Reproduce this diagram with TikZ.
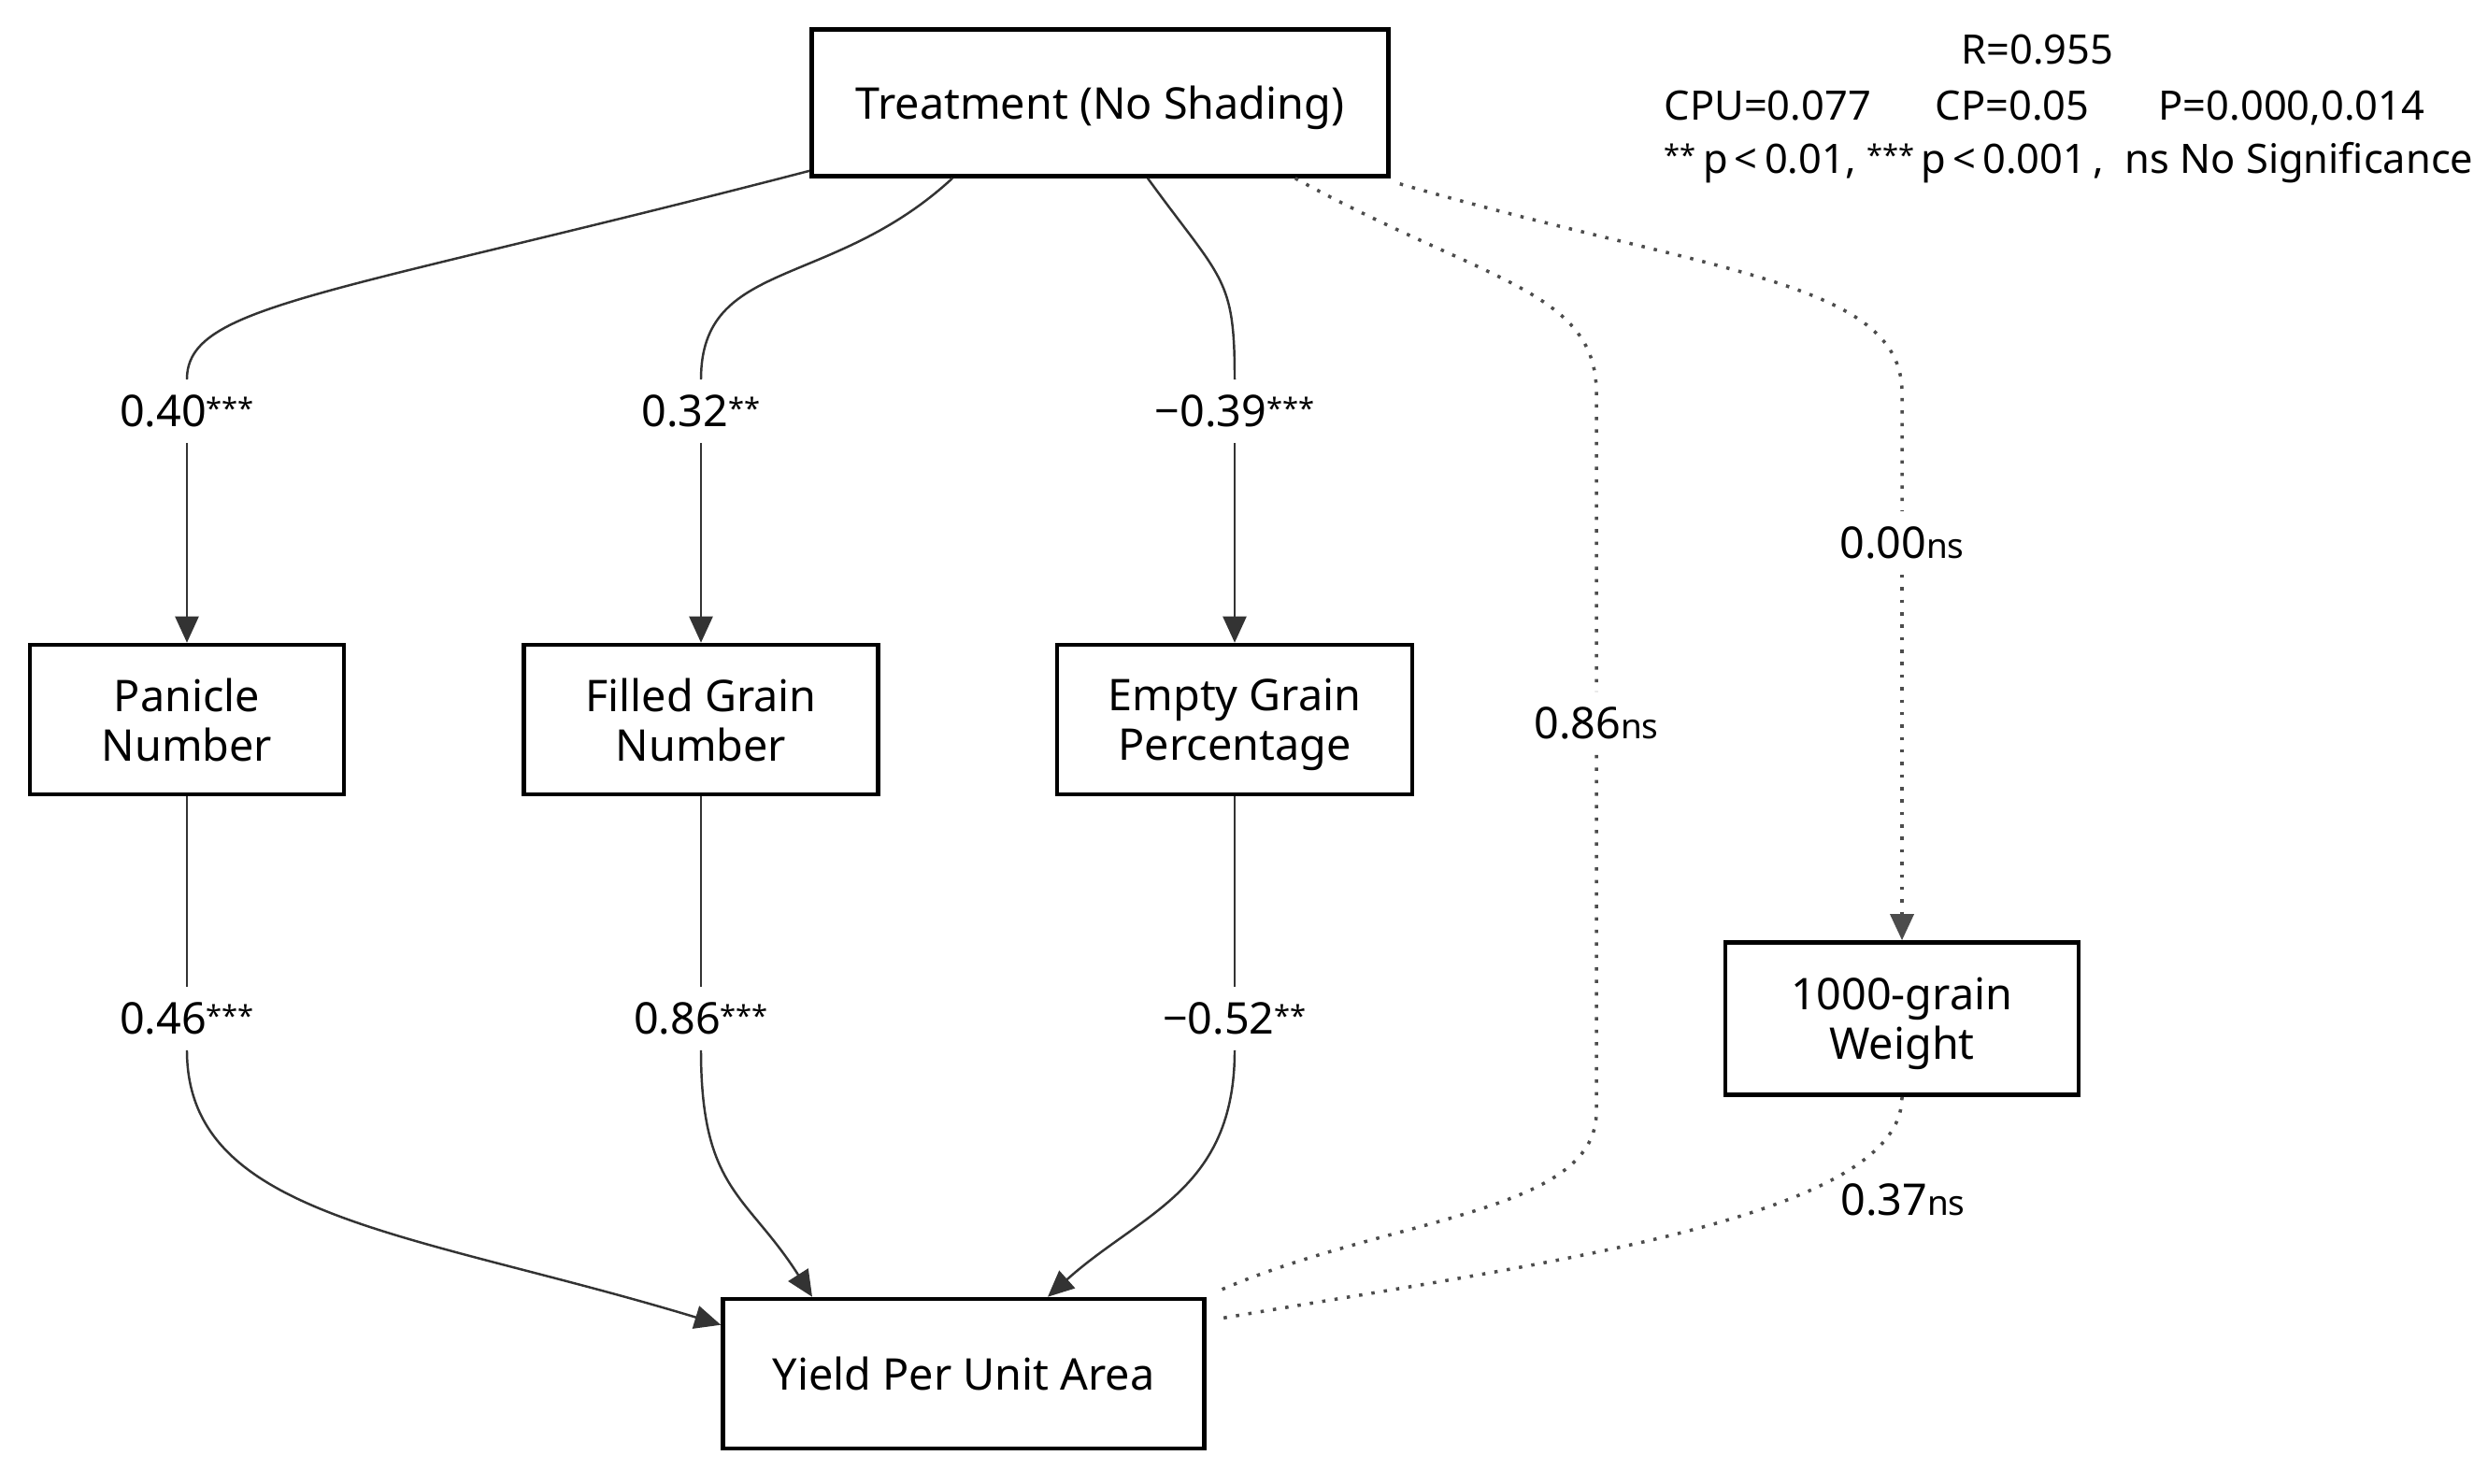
\documentclass[tikz,border=0pt]{standalone}
\usepackage{fontspec}
\setmainfont{Noto Sans}
\usetikzlibrary{arrows.meta,positioning}

\newcommand{\sigstar}[1]{\raisebox{2.4pt}{\fontsize{8.8}{8.8}\selectfont\bfseries #1}}
\newcommand{\nsmark}{{\fontsize{10.5}{10.5}\selectfont ns}}

\begin{document}
\begin{tikzpicture}[
  line cap=butt,
  >={Triangle[length=2.8mm,width=2.5mm]},
  every node/.style={font=\fontsize{13.3}{15}\selectfont},
  varbox/.style={draw=black,line width=1.3pt,align=center,minimum height=1.6cm,inner sep=2pt,text depth=0pt},
  coef/.style={inner sep=1.6mm},
  legend/.style={anchor=base west,inner sep=0pt,font=\fontsize{12.35}{14}\selectfont},
  effect/.style={black!80,line width=.7pt},
  nseffect/.style={black!70,line width=1pt,dash pattern=on 1pt off 2.8pt}
]
% Bounding box.
\useasboundingbox (0,0) rectangle (26.62,-15.88);

% Variables.
\node[varbox,minimum width=6.17cm,minimum height=1.57cm] (treat) at (11.77,-1.10) {Treatment (No Shading)};
\node[varbox,minimum width=3.36cm] (panicle) at (2.00,-7.70) {Panicle\\Number};
\node[varbox,minimum width=3.79cm] (filled) at (7.50,-7.70) {Filled Grain\\Number};
\node[varbox,minimum width=3.80cm] (empty) at (13.21,-7.70) {Empty Grain\\Percentage};
\node[varbox,minimum width=3.78cm,minimum height=1.63cm] (grainwt) at (20.35,-10.90) {1000-grain\\Weight};
\node[varbox,minimum width=5.15cm] (yield) at (10.31,-14.70) {Yield Per Unit Area};

% Path coefficients.
\node[coef] (cTP) at (panicle |- 0,-4.40) {0.40\sigstar{***}};
\node[coef] (cTF) at (filled |- 0,-4.40) {0.32\sigstar{**}};
\node[coef] (cTE) at (empty |- 0,-4.40) {−0.39\sigstar{***}};
\node[coef] (cTG) at (grainwt |- 0,-5.81) {0.00\nsmark};
\node[coef] (cTY) at (17.08,-7.74) {0.86\nsmark};
\node[coef] (cPY) at (panicle |- 0,-10.90) {0.46\sigstar{***}};
\node[coef] (cFY) at (filled |- 0,-10.90) {0.86\sigstar{***}};
\node[coef] (cEY) at (empty |- 0,-10.90) {−0.52\sigstar{**}};
\node[coef] (cGY) at (20.36,-12.84) {0.37\nsmark};

% Treatment to the yield components.
\draw[effect] ([yshift=.8mm]treat.south west) .. controls +(-5.2,-1.35) and +(0,0.8) .. (cTP.north);
\draw[effect,->] (cTP.south) -- (panicle.north);
\draw[effect] ([xshift=-1.58cm]treat.south) .. controls +(-1.3,-1.2) and +(0,1.3) .. (cTF.north);
\draw[effect,->] (cTF.south) -- (filled.north);
\draw[effect] ([xshift=.51cm]treat.south) .. controls +(.8,-1.1) and +(0,1.1) .. (cTE.north);
\draw[effect,->] (cTE.south) -- (empty.north);

% Non-significant paths.
\draw[nseffect] ([xshift=-1.02cm]treat.south east) .. controls +(2.0,-1.1) and +(0,1.1) .. (cTY.north |- 0,-4.2) -- (cTY.north);
\draw[nseffect] (cTY.south) -- (cTY.south |- 0,-11.9) .. controls +(0,-1.1) and +(1.8,.8) .. ([xshift=1mm,yshift=.5mm]yield.north east);
\draw[nseffect] ([xshift=1mm,yshift=-.6mm]treat.south east) .. controls +(3.3,-.95) and +(0,1.2) .. (cTG.north |- 0,-4.2) -- (cTG.north);
\draw[nseffect,->] (cTG.south) -- (grainwt.north);
\draw[nseffect] (grainwt.south) .. controls +(0,-1.3) and +(3.5,.6) .. ([xshift=1mm,yshift=-2.4mm]yield.north east);

% Components to yield.
\draw[effect] (panicle.south) -- (cPY.north);
\draw[effect,->] (cPY.south) .. controls +(0,-1.8) and +(-3.3,1.0) .. ([yshift=-3mm]yield.north west);
\draw[effect] (filled.south) -- (cFY.north);
\draw[effect,->] (cFY.south) .. controls +(0,-1.5) and +(-.7,1.1) .. ([xshift=-1.62cm]yield.north);
\draw[effect] (empty.south) -- (cEY.north);
\draw[effect,->] (cEY.south) .. controls +(0,-1.5) and +(1.0,.9) .. ([xshift=.9cm]yield.north);

% Fit statistics.
\node[anchor=base,inner sep=0pt,font=\fontsize{12.35}{14}\selectfont] (rval) at (21.80,-0.69) {R=0.955};
\node[legend] (cpu) at (17.80,-1.29) {CPU=0.077};
\node[legend] (cp) at (20.70,-1.29) {CP=0.05};
\node[legend] (pval) at (23.09,-1.29) {P=0.000,0.014};
\node[legend] (sig) at (17.80,-1.86) {\sigstar{**}\,p\,<\,0.01, \sigstar{***}\,p\,<\,0.001\,,\ \ ns No Significance};
\end{tikzpicture}
\end{document}
